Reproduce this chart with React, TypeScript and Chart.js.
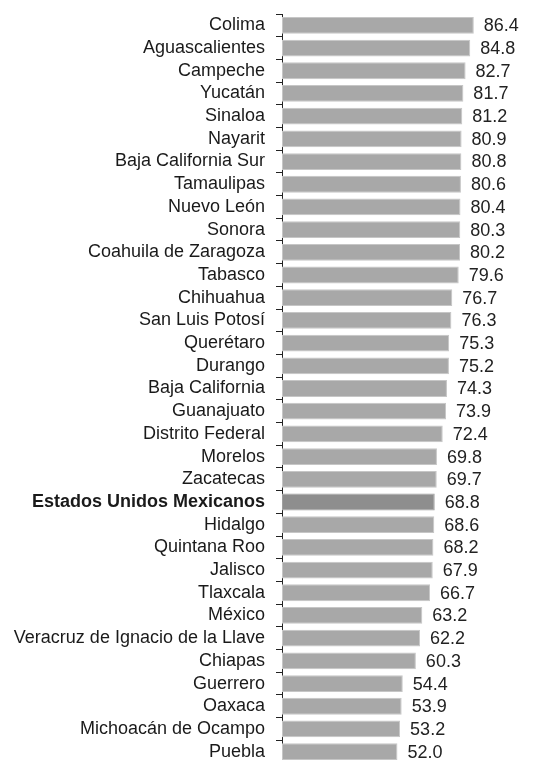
import React, { useEffect, useRef } from "react";
import { Chart, registerables } from "chart.js";

Chart.register(...registerables);

const states: string[] = [
  "Colima", "Aguascalientes", "Campeche", "Yucatán", "Sinaloa", "Nayarit",
  "Baja California Sur", "Tamaulipas", "Nuevo León", "Sonora",
  "Coahuila de Zaragoza", "Tabasco", "Chihuahua", "San Luis Potosí",
  "Querétaro", "Durango", "Baja California", "Guanajuato", "Distrito Federal",
  "Morelos", "Zacatecas", "Estados Unidos Mexicanos", "Hidalgo",
  "Quintana Roo", "Jalisco", "Tlaxcala", "México",
  "Veracruz de Ignacio de la Llave", "Chiapas", "Guerrero", "Oaxaca",
  "Michoacán de Ocampo", "Puebla",
];

const values: number[] = [
  86.4, 84.8, 82.7, 81.7, 81.2, 80.9, 80.8, 80.6, 80.4, 80.3, 80.2, 79.6,
  76.7, 76.3, 75.3, 75.2, 74.3, 73.9, 72.4, 69.8, 69.7, 68.8, 68.6, 68.2,
  67.9, 66.7, 63.2, 62.2, 60.3, 54.4, 53.9, 53.2, 52.0,
];

const nationalLabel = "Estados Unidos Mexicanos";
const FONT = "'Liberation Sans', Arial, sans-serif";

const valueLabels = {
  id: "valueLabels",
  afterDatasetsDraw(chart: any) {
    const ctx = chart.ctx;
    const meta = chart.getDatasetMeta(0);
    ctx.save();
    ctx.font = `18px ${FONT}`;
    ctx.fillStyle = "#222222";
    ctx.textAlign = "left";
    ctx.textBaseline = "middle";
    meta.data.forEach((bar: any, i: number) => {
      const v = chart.data.datasets[0].data[i] as number;
      ctx.fillText(v.toFixed(1), bar.x + 10, bar.y + 1);
    });
    ctx.restore();
  },
};

export default function App() {
  const ref = useRef<HTMLCanvasElement | null>(null);

  useEffect(() => {
    document.body.style.margin = "0";
    document.body.style.overflow = "hidden";
    if (!ref.current) return;
    const natIdx = states.indexOf(nationalLabel);
    const chart = new Chart(ref.current, {
      type: "bar",
      data: {
        labels: states,
        datasets: [
          {
            data: values,
            backgroundColor: states.map((s) => (s === nationalLabel ? "#8e8e8e" : "#a8a8a8")),
            borderColor: states.map((s) => (s === nationalLabel ? "#a0a0a0" : "#c6c6c6")),
            borderWidth: 1,
            borderSkipped: false,
            categoryPercentage: 0.74,
            barPercentage: 1,
          },
        ],
      },
      options: {
        indexAxis: "y",
        animation: false,
        responsive: false,
        maintainAspectRatio: false,
        layout: { padding: { left: 0, right: 55, top: 14, bottom: 0 } },
        plugins: {
          legend: { display: false },
          tooltip: { enabled: false },
          title: { display: false },
        },
        scales: {
          x: {
            display: false,
            min: 0,
            max: 100,
          },
          y: {
            afterFit: (scale: any) => {
              scale.width = 282;
              scale.paddingTop = 0;
              scale.paddingBottom = 0;
            },
            border: { display: true, color: "#222222", width: 1 },
            grid: {
              display: true,
              offset: true,
              drawOnChartArea: false,
              drawTicks: true,
              tickLength: 6,
              color: "#222222",
            },
            ticks: {
              padding: 11,
              color: "#1a1a1a",
              autoSkip: false,
              font: (c: any) =>
                c.index === natIdx
                  ? { family: FONT, size: 18, weight: "bold" }
                  : { family: FONT, size: 18, weight: "normal" },
            },
          },
        },
      },
      plugins: [valueLabels],
    });
    return () => chart.destroy();
  }, []);

  return (
    <div style={{ width: 559, height: 763, position: "relative" }}>
      <canvas ref={ref} width={559} height={763} style={{ display: "block" }} />
    </div>
  );
}
